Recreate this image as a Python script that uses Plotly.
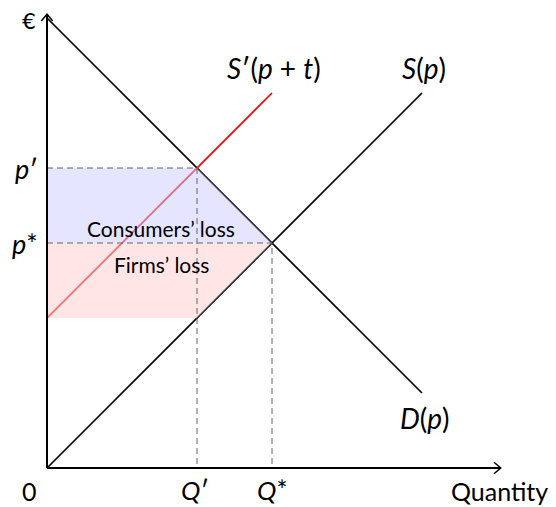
import plotly.graph_objects as go

# ---- data ----
demand_q = [0, 5]
demand_p = [6, 1]
supply_q = [0, 5]
supply_p = [0, 5]
supply_tax_q = [0, 3]
supply_tax_p = [2, 5]
q_star, p_star = 3, 3
q_prime, p_prime = 2, 4
consumer_loss_q = [0, 2, 3, 0, 0]
consumer_loss_p = [4, 4, 3, 3, 4]
firm_loss_q = [0, 3, 2, 0, 0]
firm_loss_p = [3, 3, 2, 2, 3]
axis_max = 6.05

FONT = "Lato"
fig = go.Figure()

# curves
fig.add_trace(go.Scatter(x=demand_q, y=demand_p, mode="lines",
                         line=dict(color="black", width=1.7)))
fig.add_trace(go.Scatter(x=supply_q, y=supply_p, mode="lines",
                         line=dict(color="black", width=1.7)))
fig.add_trace(go.Scatter(x=supply_tax_q, y=supply_tax_p, mode="lines",
                         line=dict(color="red", width=1.7)))

# shaded regions (drawn on top, semi-transparent)
fig.add_trace(go.Scatter(x=consumer_loss_q, y=consumer_loss_p, mode="lines",
                         fill="toself", fillcolor="rgba(204,204,255,0.5)",
                         line=dict(width=0)))
fig.add_trace(go.Scatter(x=firm_loss_q, y=firm_loss_p, mode="lines",
                         fill="toself", fillcolor="rgba(255,204,204,0.5)",
                         line=dict(width=0)))

# dashed guides
dash = dict(color="rgb(100,100,100)", width=1, dash="6px,4px")
fig.add_trace(go.Scatter(x=[0, q_prime, q_prime], y=[p_prime, p_prime, 0],
                         mode="lines", line=dash))
fig.add_trace(go.Scatter(x=[0, q_star, q_star], y=[p_star, p_star, 0],
                         mode="lines", line=dash))

# axes with arrowheads
ax_line = dict(color="black", width=2)
fig.add_trace(go.Scatter(x=[0, axis_max], y=[0, 0], mode="lines", line=ax_line))
fig.add_trace(go.Scatter(x=[0, 0], y=[0, axis_max], mode="lines", line=ax_line))
h = 0.09
fig.add_trace(go.Scatter(x=[axis_max - h, axis_max, axis_max - h],
                         y=[h * 0.85, 0, -h * 0.85], mode="lines",
                         line=dict(color="black", width=1.5)))
fig.add_trace(go.Scatter(x=[-h * 0.85, 0, h * 0.85],
                         y=[axis_max - h, axis_max, axis_max - h], mode="lines",
                         line=dict(color="black", width=1.5)))

ann = []
def label(x, y, text, size=28, xanchor="center", yanchor="middle", family=FONT):
    ann.append(dict(x=x, y=y, xref="x", yref="y", text=text, showarrow=False,
                    xanchor=xanchor, yanchor=yanchor, borderpad=0,
                    font=dict(family=family, size=size, color="black")))

# page offset of 8px (body margin) compensated: origin -> pixel (39, 460)
sx = 75.0
x0_px, y0_px = 39.0, 460.0
W, H = 556, 507
y_top = y0_px / sx

label(-0.14, y_top, "€", size=22, xanchor="right", yanchor="top",
      family="DejaVu Sans")
label(-0.11, p_prime, "<i>p</i>′", size=27, xanchor="right")
label(-0.11, p_star, "<i>p</i>*", size=27, xanchor="right")
label(-0.24, -0.30, "0", size=25)
label(q_prime - 0.03, -0.29, "<i>Q</i>′", size=26)
label(q_star, -0.29, "<i>Q</i>*", size=26)
label(6.03, -0.30, "Quantity", size=25)
label(3.03, 5.33, "<i>S</i>′(<i>p</i> + <i>t</i>)")
label(5.03, 5.33, "<i>S</i>(<i>p</i>)")
label(5.04, 0.67, "<i>D</i>(<i>p</i>)")
label(1.52, 3.2, "Consumers’ loss", size=21)
label(1.52, 2.71, "Firms’ loss", size=21)

fig.update_layout(
    width=W, height=H,
    margin=dict(l=0, r=0, t=0, b=0),
    paper_bgcolor="white", plot_bgcolor="white",
    showlegend=False,
    annotations=ann,
    xaxis=dict(range=[-x0_px / sx, (W - x0_px) / sx], visible=False, fixedrange=True),
    yaxis=dict(range=[-(H - y0_px) / sx, y0_px / sx], visible=False, fixedrange=True),
)
fig.update_traces(hoverinfo="skip")
fig.write_html("out.html")
